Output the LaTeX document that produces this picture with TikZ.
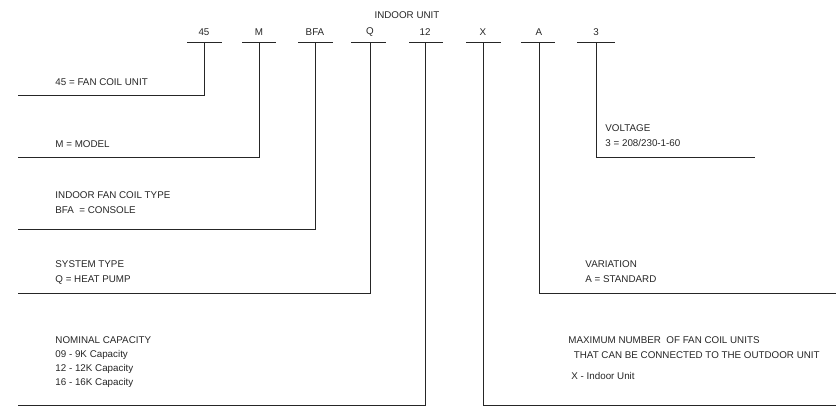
\documentclass[tikz,border=0pt]{standalone}
\usepackage{fontspec}
\setmainfont{Liberation Sans}
\begin{document}
\begin{tikzpicture}[x=1pt,y=-1pt,line width=0.9pt,
  lbl/.style={font=\fontsize{9.8}{15}\selectfont,text=black!85,inner sep=0pt,anchor=west,align=left},
  code/.style={font=\fontsize{9.8}{12}\selectfont,text=black!85,inner sep=0pt},
  ln/.style={draw=black!85}]
\useasboundingbox (0,0) rectangle (836,415);
\node[code] (title) at (407,15) {INDOOR UNIT};
\foreach \n/\t/\a/\b/\v in {c1/45/187/222/204,c2/M/242/276/259,c3/BFA/298/333/315,c4/Q/351/386/370,c5/12/409/443/425,c6/X/466/501/483,c7/A/521/555/539,c8/3/577/615/596}{
  \node[code] (\n) at (\v,32) {\t};
  \draw[ln] (\a,42) -- (\b,42);
  \coordinate (\n t) at (\v,42);
}
\coordinate (e1) at (18,95);
\coordinate (e2) at (18,157);
\coordinate (e3) at (18,229);
\coordinate (e4) at (18,293);
\coordinate (e5) at (18,405);
\coordinate (e6) at (836,405);
\coordinate (e7) at (836,293);
\coordinate (e8) at (755,157);
\draw[ln] (c1t) |- (e1);
\draw[ln] (c2t) |- (e2);
\draw[ln] (c3t) |- (e3);
\draw[ln] (c4t) |- (e4);
\draw[ln] (c5t) |- (e5);
\draw[ln] (c6t) |- (e6);
\draw[ln] (c7t) |- (e7);
\draw[ln] (c8t) |- (e8);
\node[lbl] (t1) at (55,82) {45 = FAN COIL UNIT};
\node[lbl] (t2) at (55,144) {M = MODEL};
\node[lbl,anchor=north west] (t3) at (55,191) {INDOOR FAN COIL TYPE\\BFA\ \ = CONSOLE};
\node[lbl,anchor=north west] (t4) at (55,260) {SYSTEM TYPE\\Q = HEAT PUMP};
\node[lbl,anchor=north west,font=\fontsize{9.8}{14}\selectfont] (t5) at (55,336) {NOMINAL CAPACITY\\09 - 9K Capacity\\12 - 12K Capacity\\16 - 16K Capacity};
\node[lbl,anchor=north west,font=\fontsize{9.8}{15}\selectfont] (t6) at (568,336) {MAXIMUM NUMBER \ OF FAN COIL UNITS\\\ \ THAT CAN BE CONNECTED TO THE OUTDOOR UNIT};
\node[lbl] (t6b) at (571,376) {X - Indoor Unit};
\node[lbl,anchor=north west] (t7) at (585,260) {VARIATION\\A = STANDARD};
\node[lbl,anchor=north west] (t8) at (605,124) {VOLTAGE\\3 = 208/230-1-60};
\end{tikzpicture}
\end{document}
